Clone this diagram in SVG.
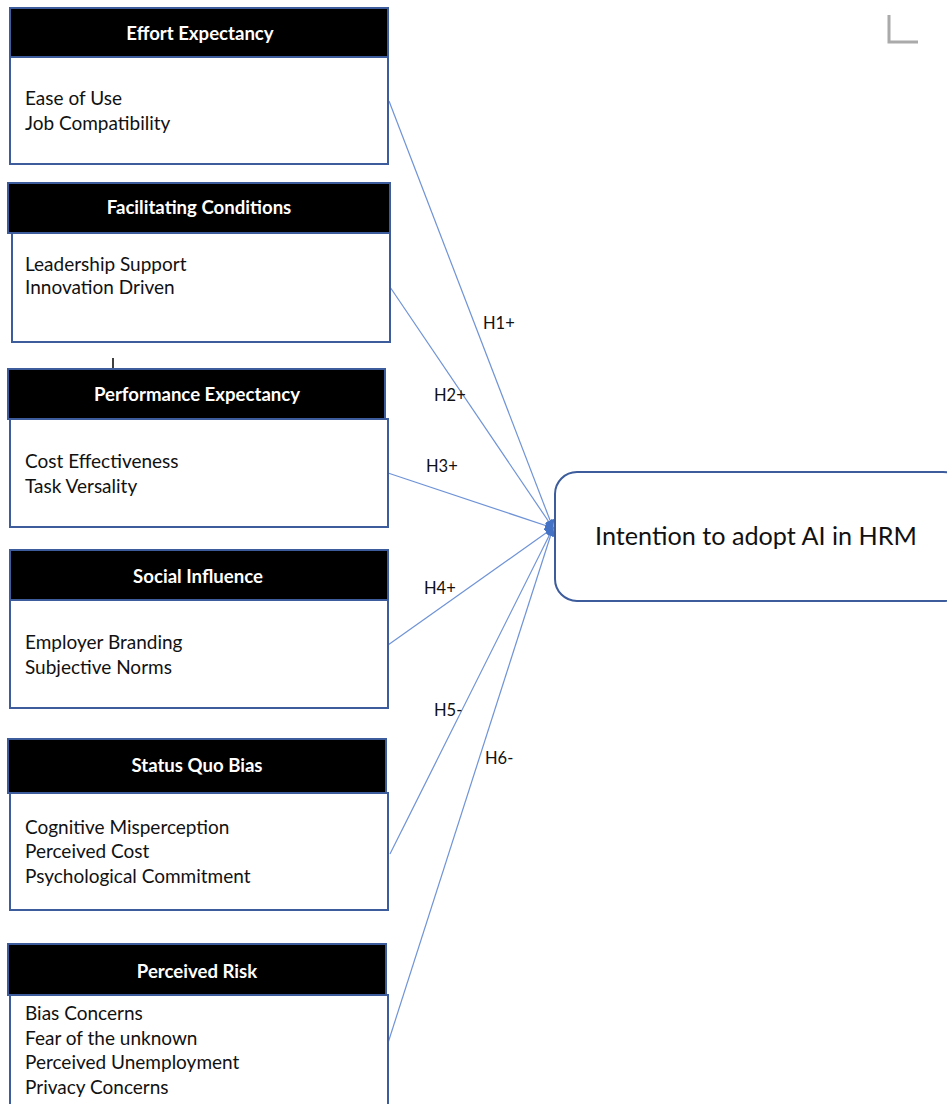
<svg xmlns="http://www.w3.org/2000/svg" width="947" height="1104" viewBox="0 0 947 1104">
  <style>
    .hdr { fill: #000000; stroke: #3d5c9c; stroke-width: 2; }
    .body { fill: #ffffff; stroke: #3d5c9c; stroke-width: 2; }
    .title { font-family: "Lato", "Liberation Sans", sans-serif; font-size: 18.6px; font-weight: bold; fill: #ffffff; text-anchor: middle; }
    .item { font-family: "Lato", "Liberation Sans", sans-serif; font-size: 19px; fill: #111111; }
    .lbl { font-family: "Lato", "Liberation Sans", sans-serif; font-size: 16.5px; fill: #111111; }
    .link { stroke: #6f93d6; stroke-width: 1.2; fill: none; marker-end: url(#arrow); }
    .target { fill: #ffffff; stroke: #3d5c9c; stroke-width: 2; }
    .big { font-family: "Lato", "Liberation Sans", sans-serif; font-size: 25.2px; fill: #111111; text-anchor: middle; }
  </style>
  <defs>
    <marker id="arrow" viewBox="0 0 10 10" refX="9" refY="5" markerWidth="9" markerHeight="9" markerUnits="userSpaceOnUse" orient="auto">
      <path d="M0,0 L10,5 L0,10 z" fill="#4472c4"/>
    </marker>
  </defs>

  <rect width="947" height="1104" fill="#ffffff"/>

  <!-- corner crop mark -->
  <path d="M889,15 V42 H918" fill="none" stroke="#aaaaaa" stroke-width="3"/>

  <!-- connectors -->
  <g id="connectors">
    <line class="link" x1="389" y1="101" x2="553" y2="528"/>
    <line class="link" x1="390" y1="287" x2="553" y2="528"/>
    <line class="link" x1="388" y1="473" x2="553" y2="528"/>
    <line class="link" x1="388" y1="645" x2="553" y2="528"/>
    <line class="link" x1="390" y1="854" x2="553" y2="528"/>
    <line class="link" x1="388" y1="1043" x2="553" y2="528"/>
    <text class="lbl" x="483" y="329">H1+</text>
    <text class="lbl" x="434" y="401">H2+</text>
    <text class="lbl" x="426" y="472">H3+</text>
    <text class="lbl" x="424" y="594">H4+</text>
    <text class="lbl" x="434" y="716">H5-</text>
    <text class="lbl" x="485" y="764">H6-</text>
  </g>

  <!-- Effort Expectancy -->
  <g id="effort-expectancy">
    <rect class="body" x="10" y="57" width="378" height="107"/>
    <rect class="hdr" x="10" y="8" width="378" height="49"/>
    <text class="title" x="200" y="40">Effort Expectancy</text>
    <text class="item" x="25" y="105">Ease of Use</text>
    <text class="item" x="25" y="130">Job Compatibility</text>
  </g>

  <!-- Facilitating Conditions -->
  <g id="facilitating-conditions">
    <rect class="body" x="12" y="233" width="378" height="109"/>
    <rect class="hdr" x="8" y="183" width="382" height="50"/>
    <text class="title" x="199" y="214">Facilitating Conditions</text>
    <text class="item" x="25" y="271">Leadership Support</text>
    <text class="item" x="25" y="294">Innovation Driven</text>
  </g>

  <!-- small tick above Performance Expectancy -->
  <line x1="113" y1="358" x2="113" y2="369" stroke="#000000" stroke-width="1.5"/>

  <!-- Performance Expectancy -->
  <g id="performance-expectancy">
    <rect class="body" x="10" y="419" width="378" height="108"/>
    <rect class="hdr" x="8" y="369" width="377" height="50"/>
    <text class="title" x="197" y="401">Performance Expectancy</text>
    <text class="item" x="25" y="468">Cost Effectiveness</text>
    <text class="item" x="25" y="493">Task Versality</text>
  </g>

  <!-- Social Influence -->
  <g id="social-influence">
    <rect class="body" x="10" y="600" width="378" height="108"/>
    <rect class="hdr" x="10" y="550" width="378" height="50"/>
    <text class="title" x="198" y="583">Social Influence</text>
    <text class="item" x="25" y="649">Employer Branding</text>
    <text class="item" x="25" y="674">Subjective Norms</text>
  </g>

  <!-- Status Quo Bias -->
  <g id="status-quo-bias">
    <rect class="body" x="10" y="793" width="378" height="117"/>
    <rect class="hdr" x="8" y="739" width="378" height="54"/>
    <text class="title" x="197" y="772">Status Quo Bias</text>
    <text class="item" x="25" y="834">Cognitive Misperception</text>
    <text class="item" x="25" y="858">Perceived Cost</text>
    <text class="item" x="25" y="883">Psychological Commitment</text>
  </g>

  <!-- Perceived Risk -->
  <g id="perceived-risk">
    <rect class="body" x="10" y="995" width="378" height="120"/>
    <rect class="hdr" x="8" y="944" width="378" height="51"/>
    <text class="title" x="197" y="978">Perceived Risk</text>
    <text class="item" x="25" y="1020">Bias Concerns</text>
    <text class="item" x="25" y="1045">Fear of the unknown</text>
    <text class="item" x="25" y="1069">Perceived Unemployment</text>
    <text class="item" x="25" y="1094">Privacy Concerns</text>
  </g>

  <!-- Intention to adopt AI in HRM -->
  <g id="intention">
    <rect class="target" x="555" y="472" width="410" height="129" rx="22" ry="22"/>
    <text class="big" x="756" y="545">Intention to adopt AI in HRM</text>
  </g>
</svg>
